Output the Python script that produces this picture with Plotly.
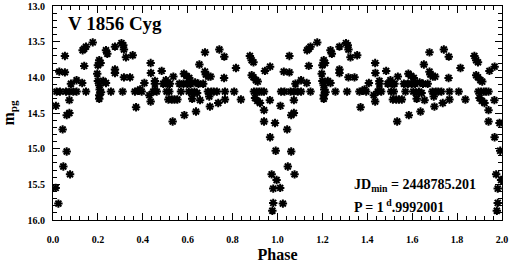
import plotly.graph_objects as go

# phase-folded light curve, one cycle (phase 0..1); plotted twice (0..2)
phase_cycle = [
    0.012, 0.024, 0.013, 0.016, 0.028, 0.031, 0.043, 0.046, 0.053, 0.053,
    0.058, 0.061, 0.061, 0.073, 0.073, 0.073, 0.076, 0.080, 0.090,
    0.105, 0.105, 0.130, 0.132, 0.139, 0.147, 0.139, 0.147, 0.177,
    0.197, 0.200, 0.206, 0.212, 0.200, 0.206, 0.208, 0.214, 0.206, 0.206,
    0.224, 0.236, 0.236, 0.242, 0.258, 0.276, 0.276, 0.276,
    0.305, 0.313, 0.316, 0.325, 0.316, 0.310, 0.343, 0.355,
    0.365, 0.380, 0.388, 0.395, 0.370, 0.407, 0.429, 0.435, 0.436, 0.435,
    0.447, 0.454, 0.462, 0.454, 0.454, 0.484,
    0.491, 0.503, 0.511, 0.521, 0.506, 0.518,
    0.514, 0.529, 0.541, 0.554, 0.533, 0.536,
    0.563, 0.570, 0.583, 0.595, 0.607, 0.585, 0.581, 0.598, 0.613,
    0.633, 0.648, 0.669, 0.605, 0.618, 0.630, 0.642, 0.620,
    0.637, 0.652, 0.655, 0.677, 0.677, 0.681, 0.692, 0.702,
    0.690, 0.705, 0.716, 0.730, 0.696, 0.699, 0.736, 0.741,
    0.762, 0.763, 0.766, 0.766, 0.807, 0.815, 0.837,
    0.877, 0.885, 0.893, 0.885, 0.893, 0.904, 0.912,
    0.895, 0.907, 0.919, 0.929, 0.940, 0.900, 0.910, 0.922,
    0.940, 0.940, 0.944, 0.967, 0.966, 0.989, 0.967, 0.992,
    0.974, 0.996, 0.981, 0.981, 0.977,
]
mag_cycle = [
    15.55, 15.77, 14.40, 14.20, 13.92, 14.20, 14.73, 15.25, 13.70, 13.93,
    14.20, 15.04, 14.53, 14.50, 14.20, 14.32, 15.36, 14.09, 14.20,
    14.04, 14.20, 14.08, 13.62, 13.60, 13.57, 13.84, 14.20, 13.51,
    13.95, 13.83, 13.76, 13.80, 14.05, 14.11, 14.17, 14.21, 14.25, 14.30,
    14.05, 14.08, 13.62, 13.67, 14.20, 13.57, 13.89, 13.94,
    13.52, 13.55, 13.61, 13.72, 14.00, 14.20, 14.00, 13.69,
    14.20, 14.19, 14.17, 14.20, 14.42, 14.08, 14.25, 13.80, 13.94, 14.34,
    14.20, 14.18, 14.20, 14.05, 14.09, 13.91,
    14.09, 14.04, 14.09, 14.09, 14.20, 14.20,
    14.31, 14.31, 14.31, 14.31, 14.62, 13.99,
    14.09, 14.20, 13.95, 13.98, 14.01, 14.53, 14.09, 14.09, 14.09,
    14.07, 14.09, 14.09, 14.20, 14.22, 14.20, 14.22, 14.30,
    14.48, 13.82, 14.32, 13.65, 13.92, 13.96, 13.99, 13.99,
    14.20, 14.20, 14.20, 14.20, 14.27, 14.41, 14.36, 13.61,
    14.01, 13.71, 14.20, 14.31, 14.20, 13.87, 14.31,
    13.70, 13.76, 13.79, 13.97, 14.00, 14.04, 14.06,
    14.20, 14.20, 14.20, 14.20, 14.20, 14.29, 14.33, 14.36,
    14.46, 14.62, 13.91, 13.85, 14.32, 14.64, 14.84, 15.03,
    15.36, 15.44, 15.56, 15.76, 15.87,
]

x_ticks = [0.0, 0.2, 0.4, 0.6, 0.8, 1.0, 1.2, 1.4, 1.6, 1.8, 2.0]
y_ticks = [13.0, 13.5, 14.0, 14.5, 15.0, 15.5, 16.0]
x_range = [0, 2]
y_range = [16.0, 13.0]

phase = phase_cycle + [p + 1 for p in phase_cycle]
mag = mag_cycle + mag_cycle

serif = "Liberation Serif"
tick_font = dict(family=serif, size=10, color="black", weight="bold")
title_font = dict(family=serif, size=16, color="black", weight="bold")

fig = go.Figure()
fig.add_trace(go.Scatter(
    x=phase, y=mag, mode="markers",
    marker=dict(symbol="asterisk-open", size=7, color="black",
                line=dict(color="black", width=2)),
    showlegend=False, hoverinfo="skip",
))
# empty trace so the label-only overlay axes get drawn
fig.add_trace(go.Scatter(x=[], y=[], xaxis="x2", yaxis="y2", showlegend=False))

# frame axes: box with inside major + minor ticks, no labels
frame = dict(
    showgrid=False, zeroline=False, showline=True, linecolor="black", linewidth=1,
    mirror="allticks", ticks="inside", ticklen=7, tickcolor="black", tickwidth=1,
    showticklabels=False, automargin=False,
)
# label axes: transparent outside ticks push the labels away from the frame
labels = dict(
    showgrid=False, zeroline=False, showline=False, ticks="outside",
    tickcolor="rgba(0,0,0,0)", tickfont=tick_font, tickformat=".1f", automargin=False,
)

fig.update_layout(
    xaxis=dict(range=x_range, tickvals=x_ticks,
               minor=dict(dtick=0.04, ticks="inside", ticklen=4, tickcolor="black", tickwidth=1),
               **frame),
    yaxis=dict(range=y_range, tickvals=y_ticks,
               minor=dict(dtick=0.1, ticks="inside", ticklen=4, tickcolor="black", tickwidth=1),
               **frame),
    xaxis2=dict(range=x_range, tickvals=x_ticks, overlaying="x", anchor="y2", side="bottom",
                ticklen=10, title=dict(text="Phase", font=title_font, standoff=10), **labels),
    yaxis2=dict(range=y_range, tickvals=y_ticks, overlaying="y", anchor="x2", side="left",
                ticklen=5, title=dict(text="m<sub>pg</sub>", font=title_font, standoff=9), **labels),
)

fig.add_annotation(x=0.03, y=0.92, xref="paper", yref="paper", xanchor="left", yanchor="middle",
                   text="V 1856 Cyg", showarrow=False,
                   font=dict(family=serif, size=19, color="black", weight="bold"))
fig.add_annotation(x=0.665, y=0.16, xref="paper", yref="paper", xanchor="left", yanchor="middle",
                   text="JD<sub>min</sub> = 2448785.201", showarrow=False,
                   font=dict(family=serif, size=14, color="black", weight="bold"))
fig.add_annotation(x=0.665, y=0.065, xref="paper", yref="paper", xanchor="left", yanchor="middle",
                   text="P = 1<sup> d</sup>.9992001", showarrow=False,
                   font=dict(family=serif, size=14, color="black", weight="bold"))

fig.update_layout(
    width=510, height=263,
    margin=dict(l=53, r=8, t=6, b=43),
    paper_bgcolor="white", plot_bgcolor="white",
)

# drop the page's default body margin so the figure sits at the window corner
fig.write_html("out.html", config={"displayModeBar": False},
               post_script="document.body.style.margin='0';")
